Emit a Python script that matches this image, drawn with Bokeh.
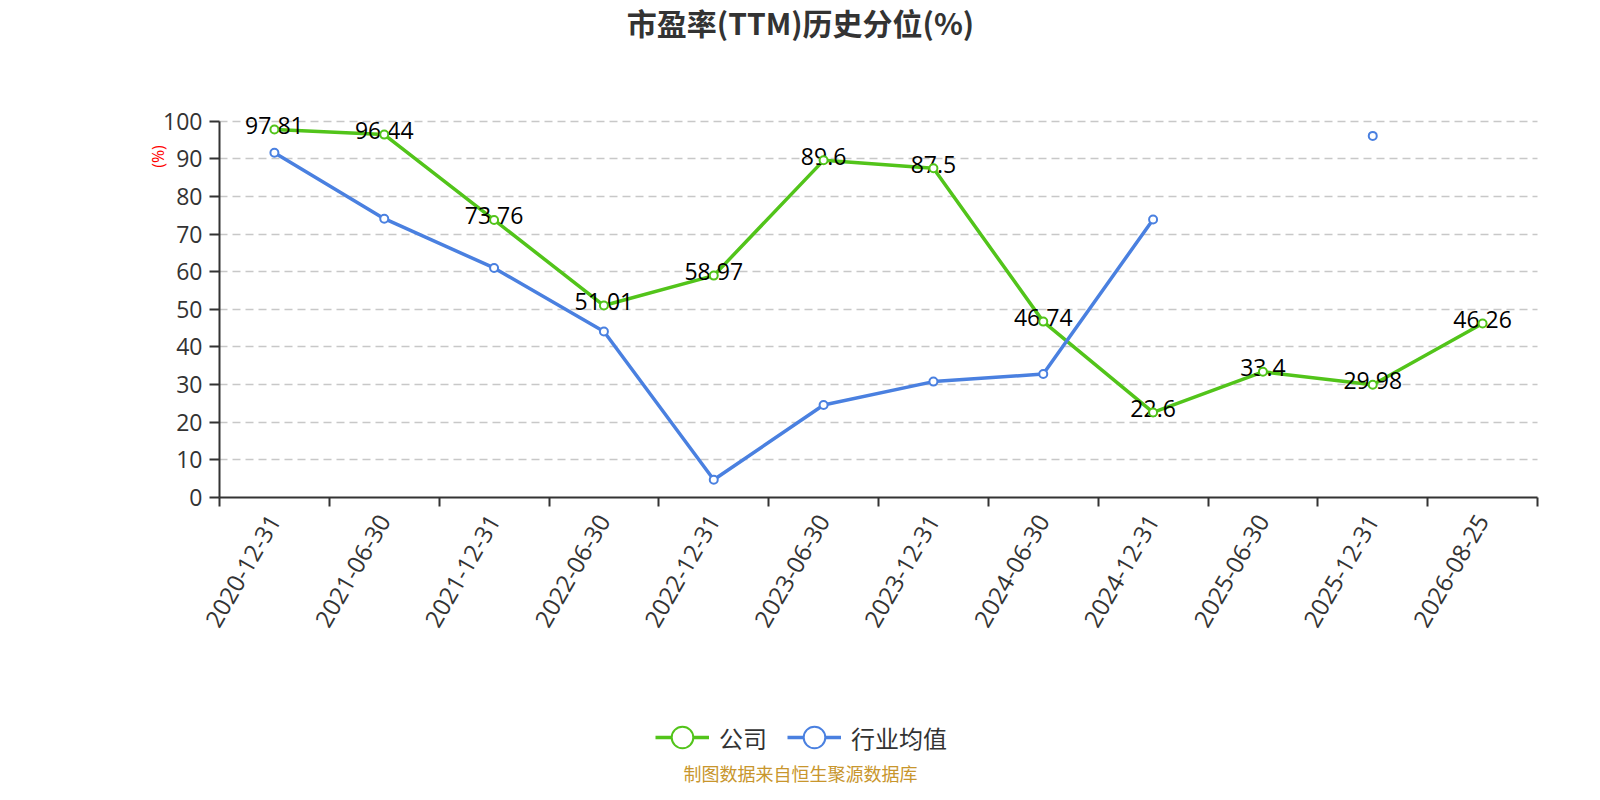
import math
import numpy as np
from bokeh.plotting import figure
from bokeh.models import (ColumnDataSource, Range1d, FixedTicker, Label, Legend, LegendItem, Grid)
from bokeh.core.properties import value
from bokeh.embed import file_html
from bokeh.resources import INLINE

# ---------------- data ----------------
dates = ["2020-12-31", "2021-06-30", "2021-12-31", "2022-06-30", "2022-12-31", "2023-06-30",
         "2023-12-31", "2024-06-30", "2024-12-31", "2025-06-30", "2025-12-31", "2026-08-25"]
company = [97.81, 96.44, 73.76, 51.01, 58.97, 89.6, 87.5, 46.74, 22.6, 33.4, 29.98, 46.26]
industry = [91.6, 74.1, 61.0, 44.1, 4.7, 24.6, 30.8, 32.8, 73.9, np.nan, 96.1, np.nan]
y_ticks = [0, 10, 20, 30, 40, 50, 60, 70, 80, 90, 100]
series_names = ["公司", "行业均值"]
title_text = "市盈率(TTM)历史分位(%)"
unit_text = "(%)"
footer_text = "制图数据来自恒生聚源数据库"

# ---------------- layout constants (canvas px) ----------------
W, H = 1584, 784
FL, FR, FB = 219, 1537, 497      # x of first/last category edge, y of value 0
Y100 = 120.7                     # y of value 100
n = len(dates)
ppu = (FB - Y100) / 100.0
ppx = (FR - FL) / n

GREEN = "#52c41a"
BLUE = "#4a80e0"
DARK = "#333333"
GOLD = "#c8962d"
LATIN = "Open Sans"
CJK = "Noto Sans CJK SC"

p = figure(width=W, height=H, output_backend="svg", toolbar_location=None,
           x_range=Range1d(-FL / ppx, n + (W - FR) / ppx),
           y_range=Range1d(-(H - FB) / ppu, FB / ppu),
           min_border_left=0, min_border_right=0, min_border_top=0, min_border_bottom=0)
p.extra_x_ranges = {"px": Range1d(0, W)}
p.extra_y_ranges = {"py": Range1d(H, 0)}
p.outline_line_color = None
p.background_fill_color = "white"
p.border_fill_color = "white"

xs = np.arange(n) + 0.5

# grid
p.xgrid.visible = False
if "cross_bounds" in Grid.properties():
    p.ygrid.ticker = FixedTicker(ticks=y_ticks[1:])
    p.ygrid.cross_bounds = (0, n)
    p.ygrid.grid_line_color = "#c8c8c8"
    p.ygrid.grid_line_dash = "8 5"
    p.ygrid.grid_line_width = 1.7
else:
    p.ygrid.visible = False
    gy = y_ticks[1:]
    p.segment(x0=[0] * len(gy), x1=[n] * len(gy), y0=gy, y1=gy,
              line_color="#c8c8c8", line_dash="8 5", line_width=1.7)

# x axis (drawn at value 0 inside the frame)
xa = p.xaxis[0]
xa.fixed_location = 0
xa.bounds = (0, n)
xa.ticker = FixedTicker(ticks=[float(v) for v in xs], minor_ticks=list(range(n + 1)))
xa.major_label_overrides = {float(v): d for v, d in zip(xs, dates)}
xa.major_tick_line_color = None
xa.major_tick_out = 0
xa.major_tick_in = 0
xa.minor_tick_out = 9
xa.minor_tick_in = 0
xa.minor_tick_line_color = DARK
xa.minor_tick_line_width = 2
xa.axis_line_color = DARK
xa.axis_line_width = 2
xa.major_label_orientation = math.pi / 3
xa.major_label_standoff = 10
xa.major_label_text_font = LATIN
xa.major_label_text_font_size = "24px"
xa.major_label_text_color = DARK

# y axis (drawn at the first category edge)
ya = p.yaxis[0]
ya.fixed_location = 0
ya.bounds = (0, 100)
ya.ticker = FixedTicker(ticks=y_ticks)
ya.minor_tick_line_color = None
ya.major_tick_out = 10
ya.major_tick_in = 0
ya.major_tick_line_color = DARK
ya.major_tick_line_width = 2
ya.axis_line_color = DARK
ya.axis_line_width = 2
ya.major_label_standoff = 7
ya.major_label_text_font = LATIN
ya.major_label_text_font_size = "23px"
ya.major_label_text_color = DARK

src = ColumnDataSource(dict(x=xs, company=company, industry=industry,
                            label=[str(v) for v in company]))

gl = p.line("x", "company", source=src, line_color=GREEN, line_width=3.5)
bl = p.line("x", "industry", source=src, line_color=BLUE, line_width=3.5)
p.text("x", "company", text="label", source=src, text_font=value(LATIN),
       text_font_size="23px", text_align="center", text_baseline="middle",
       text_color="black", y_offset=-4)
gs = p.scatter("x", "company", source=src, size=8, line_color=GREEN, fill_color="white", line_width=2)
bs = p.scatter("x", "industry", source=src, size=8, line_color=BLUE, fill_color="white", line_width=2)

legend = Legend(items=[LegendItem(label=series_names[0], renderers=[gl, gs]),
                       LegendItem(label=series_names[1], renderers=[bl, bs])],
                location=(655, 20), orientation="horizontal",
                glyph_width=54, glyph_height=54, label_standoff=10, spacing=20,
                padding=0, margin=0, border_line_color=None, background_fill_alpha=0,
                label_text_font=CJK, label_text_font_size="24px", label_text_color=DARK)
p.add_layout(legend)

p.add_layout(Label(x=800, y=21, x_range_name="px", y_range_name="py", text=title_text,
                   text_font=CJK, text_font_style="bold", text_font_size="30px",
                   text_color=DARK, text_align="center", text_baseline="middle"))
p.add_layout(Label(x=157, y=156, x_range_name="px", y_range_name="py", text=unit_text,
                   angle=math.pi / 2, text_font=LATIN, text_font_size="16px",
                   text_color="red", text_align="center", text_baseline="middle"))
p.add_layout(Label(x=800, y=772, x_range_name="px", y_range_name="py", text=footer_text,
                   text_font=CJK, text_font_size="18px", text_color=GOLD,
                   text_align="center", text_baseline="middle"))

open("out.html", "w").write(file_html(p, INLINE))
